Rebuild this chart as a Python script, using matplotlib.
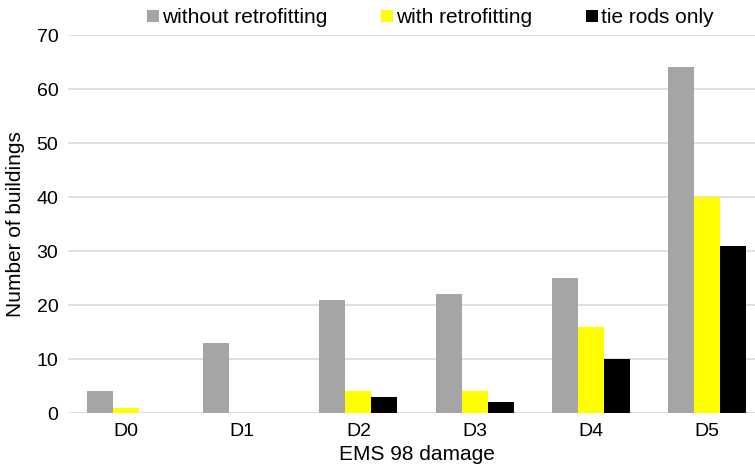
import numpy as np
import matplotlib.pyplot as plt

plt.rcParams['font.family'] = ['Liberation Sans', 'DejaVu Sans']

categories = ['D0', 'D1', 'D2', 'D3', 'D4', 'D5']
without_retro = [4, 13, 21, 22, 25, 64]
with_retro = [1, 0, 4, 4, 16, 40]
tie_rods = [0, 0, 3, 2, 10, 31]
series_names = ['without retrofitting', 'with retrofitting', 'tie rods only']
colors = ['#A5A5A5', '#FFFF00', '#000000']

fig = plt.figure(figsize=(7.55, 4.73), dpi=100)
ax = fig.add_axes([68 / 755, 1 - 413 / 473, 697 / 755, (413 - 35) / 473])

x = np.arange(len(categories))
w = 0.224
for i, (vals, name, c) in enumerate(zip([without_retro, with_retro, tie_rods], series_names, colors)):
    ax.bar(x + (i - 1) * w, vals, w, color=c, label=name, zorder=3)

ax.set_xlim(-0.5, len(categories) - 0.5)
ax.set_ylim(0, 70)
ax.set_yticks(range(0, 71, 10))
ax.set_xticks(x)
ax.set_xticklabels(categories)
ax.grid(axis='y', color='#D9D9D9', linewidth=1.2, zorder=0)
for s in ['top', 'right', 'left', 'bottom']:
    ax.spines[s].set_visible(False)
ax.tick_params(axis='both', length=0, labelsize=14, colors='#000000')
ax.tick_params(axis='y', pad=7)
ax.tick_params(axis='x', pad=7)

ax.set_xlabel('EMS 98 damage', fontsize=15, labelpad=4)
fig.text(16 / 755, 1 - 224 / 473, 'Number of buildings', fontsize=15,
         rotation=90, ha='center', va='center')

fig.legend(loc='center', bbox_to_anchor=(0.57, 0.962), ncol=3, frameon=False,
           fontsize=15, handlelength=0.55, handleheight=0.55, handletextpad=0.15,
           columnspacing=2.6, borderpad=0, borderaxespad=0)

fig.savefig('out.png', dpi=100)
